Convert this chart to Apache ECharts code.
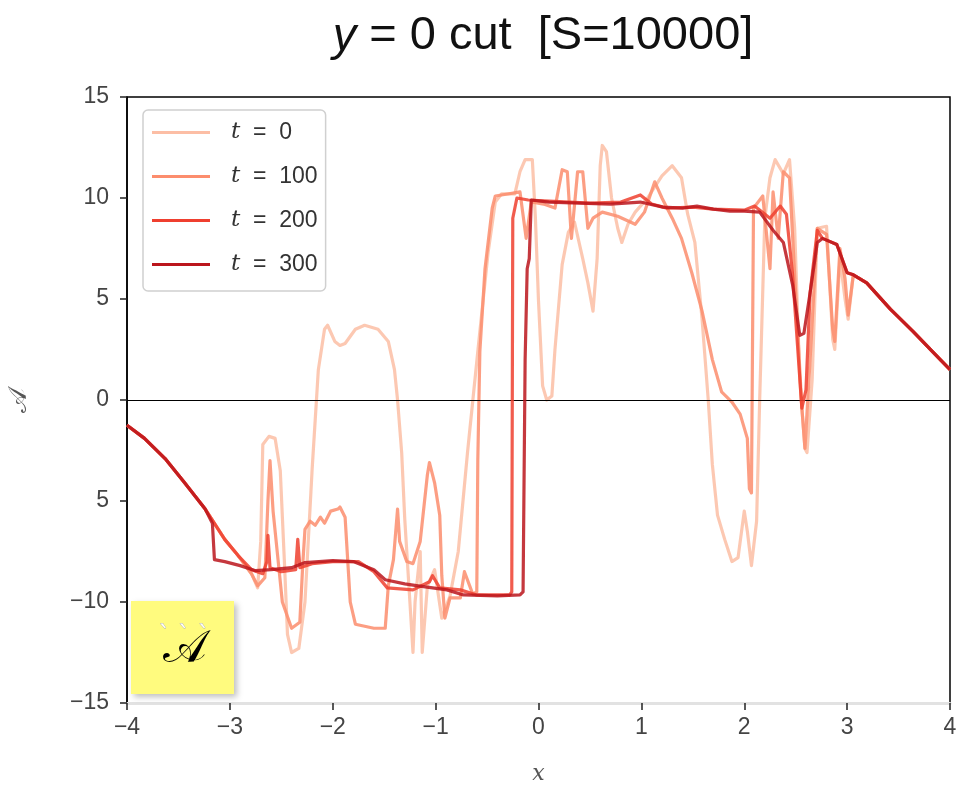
<!DOCTYPE html>
<html>
<head>
<meta charset="utf-8">
<script src="https://cdn.jsdelivr.net/npm/echarts@6/dist/echarts.min.js"></script>
<style>
  html, body { margin: 0; padding: 0; background: #fff; overflow: hidden; }
  #chart { width: 956px; height: 785px; }
</style>
</head>
<body>
<div id="chart"></div>
<script>
// y = 0 cut, four snapshots of A(x)
const seriesNames = ['t = 0', 't = 100', 't = 200', 't = 300'];
const xTicks = [-4, -3, -2, -1, 0, 1, 2, 3, 4];
const yTicks = [-15, -10, -5, 0, 5, 10, 15];

const cutT0 = [[-4.0,-1.25],[-3.83,-1.9],[-3.63,-2.9],[-3.44,-4.1],[-3.24,-5.4],[-3.05,-6.9],[-2.92,-7.7],[-2.79,-8.6],[-2.73,-9.3],[-2.7,-7],[-2.68,-2.2],[-2.62,-1.8],[-2.56,-1.9],[-2.51,-3.5],[-2.47,-8],[-2.44,-11.6],[-2.40,-12.5],[-2.33,-12.3],[-2.27,-10],[-2.2,-3.4],[-2.14,1.5],[-2.08,3.5],[-2.05,3.7],[-1.98,2.9],[-1.93,2.7],[-1.88,2.8],[-1.78,3.5],[-1.69,3.7],[-1.56,3.5],[-1.46,2.9],[-1.4,1.5],[-1.37,0],[-1.33,-2.6],[-1.30,-5.9],[-1.25,-10],[-1.22,-12.5],[-1.2,-10],[-1.15,-7.5],[-1.13,-12.5],[-1.08,-9.2],[-1.01,-8.4],[-0.94,-10.8],[-0.86,-9.7],[-0.78,-7.5],[-0.69,-2.6],[-0.59,2.4],[-0.49,7.3],[-0.42,9.8],[-0.36,10.2],[-0.23,10.2],[-0.18,11.3],[-0.13,11.9],[-0.06,11.9],[-0.03,9.0],[0.0,4.9],[0.04,0.7],[0.08,0.0],[0.13,0.2],[0.16,2.5],[0.23,6.7],[0.29,8.3],[0.35,8.8],[0.43,7.0],[0.48,5.8],[0.53,4.4],[0.57,7],[0.6,11.6],[0.62,12.6],[0.66,12.3],[0.71,10.0],[0.77,8.5],[0.81,7.8],[0.87,8.7],[0.94,9.3],[1.06,10.0],[1.2,11.1],[1.3,11.6],[1.39,11.0],[1.45,9.2],[1.52,7.8],[1.59,4.0],[1.65,0.0],[1.69,-3.2],[1.74,-5.7],[1.81,-6.9],[1.88,-8.0],[1.94,-7.8],[2.0,-5.5],[2.03,-6.5],[2.07,-8.2],[2.12,-6],[2.15,0],[2.2,9.0],[2.25,11.0],[2.3,11.9],[2.38,11.2],[2.44,11.9],[2.49,8.5],[2.54,1.0],[2.59,-2.4],[2.61,-2.6],[2.66,1.0],[2.71,8.5],[2.8,8.6],[2.86,3.0],[2.88,2.5],[2.93,7.0],[2.98,5.0],[3.01,4.0],[3.06,6.2],[3.19,5.8],[3.42,4.5],[3.64,3.4],[3.83,2.4],[4.0,1.5]];

const cutT100 = [[-4.0,-1.25],[-3.83,-1.9],[-3.63,-2.9],[-3.44,-4.1],[-3.24,-5.4],[-3.05,-6.9],[-2.92,-7.7],[-2.79,-8.6],[-2.73,-9.2],[-2.66,-8.8],[-2.63,-5],[-2.61,-3.0],[-2.58,-5.5],[-2.52,-8.5],[-2.49,-10],[-2.4,-11.3],[-2.32,-11.0],[-2.29,-8],[-2.27,-6.4],[-2.22,-6.0],[-2.17,-6.2],[-2.12,-5.8],[-2.08,-6.1],[-2.02,-5.5],[-1.95,-5.4],[-1.93,-5.3],[-1.88,-5.8],[-1.83,-10],[-1.78,-11.1],[-1.6,-11.3],[-1.49,-11.3],[-1.46,-9.2],[-1.41,-7.9],[-1.37,-5.4],[-1.35,-7.0],[-1.28,-8.0],[-1.22,-8.1],[-1.15,-7.0],[-1.08,-3.7],[-1.06,-3.1],[-1.01,-4.1],[-0.96,-5.7],[-0.94,-8.7],[-0.91,-10.8],[-0.86,-9.8],[-0.76,-9.8],[-0.72,-8.5],[-0.64,-9.6],[-0.6,-9.5],[-0.59,-3],[-0.57,2.4],[-0.52,6.5],[-0.45,9.5],[-0.42,10.1],[-0.3,10.2],[-0.18,10.3],[-0.12,8.0],[-0.07,9.8],[0.05,9.7],[0.16,9.5],[0.23,11.4],[0.28,11.3],[0.32,8.0],[0.38,11.3],[0.43,11.3],[0.48,8.5],[0.53,9.0],[0.62,9.3],[0.77,9.1],[0.94,8.7],[1.03,9.3],[1.13,10.8],[1.2,10.0],[1.3,9.0],[1.39,8.0],[1.49,6.3],[1.59,4.4],[1.69,2.0],[1.78,0.4],[1.88,-0.1],[1.96,-0.7],[2.03,-1.9],[2.05,-4.4],[2.07,-4.6],[2.09,9.5],[2.18,10.1],[2.25,6.5],[2.28,10.3],[2.33,8.0],[2.38,11.3],[2.44,11.0],[2.49,6.2],[2.56,-0.4],[2.59,-2.4],[2.64,2.0],[2.71,8.5],[2.8,8.2],[2.86,3.5],[2.88,2.9],[2.93,7.5],[2.98,6.0],[3.01,4.2],[3.06,6.2],[3.19,5.8],[3.42,4.5],[3.64,3.4],[3.83,2.4],[4.0,1.5]];

const cutT200 = [[-4.0,-1.25],[-3.83,-1.9],[-3.63,-2.9],[-3.44,-4.1],[-3.24,-5.4],[-3.05,-6.9],[-2.92,-7.7],[-2.79,-8.4],[-2.68,-8.6],[-2.64,-8.0],[-2.63,-6.7],[-2.61,-8.3],[-2.5,-8.5],[-2.36,-8.4],[-2.34,-6.9],[-2.32,-8.3],[-2.2,-8.1],[-2.0,-8.0],[-1.75,-8.0],[-1.6,-8.5],[-1.47,-9.3],[-1.22,-9.4],[-1.06,-9.0],[-1.03,-8.7],[-0.96,-9.3],[-0.76,-9.4],[-0.6,-9.65],[-0.28,-9.65],[-0.26,-9.5],[-0.25,9.0],[-0.21,10.0],[-0.1,9.9],[0.1,9.85],[0.5,9.75],[0.8,9.8],[0.99,10.15],[1.1,9.7],[1.25,9.5],[1.5,9.55],[1.7,9.45],[2.0,9.4],[2.1,9.6],[2.25,9.0],[2.35,9.6],[2.41,9.2],[2.47,6.2],[2.56,-0.4],[2.6,0.5],[2.64,5.3],[2.71,8.4],[2.76,8.0],[2.9,7.7],[3.0,6.3],[3.06,6.2],[3.19,5.8],[3.42,4.5],[3.64,3.4],[3.83,2.4],[4.0,1.5]];

const cutT300 = [[-4.0,-1.25],[-3.83,-1.9],[-3.63,-2.9],[-3.44,-4.1],[-3.24,-5.4],[-3.17,-6.1],[-3.15,-7.9],[-3.05,-8.0],[-2.9,-8.2],[-2.75,-8.45],[-2.6,-8.4],[-2.4,-8.3],[-2.27,-8.05],[-2.0,-7.95],[-1.8,-8.0],[-1.6,-8.4],[-1.49,-8.9],[-1.3,-9.1],[-1.17,-9.2],[-0.89,-9.4],[-0.73,-9.65],[-0.4,-9.7],[-0.18,-9.65],[-0.15,-9.5],[-0.13,2],[-0.11,6.5],[-0.09,7.0],[-0.07,9.9],[0.1,9.8],[0.4,9.75],[0.7,9.7],[0.99,9.8],[1.21,9.55],[1.4,9.5],[1.54,9.6],[1.7,9.45],[1.86,9.35],[2.0,9.35],[2.15,9.3],[2.28,8.4],[2.38,7.8],[2.47,5.7],[2.54,3.2],[2.58,3.3],[2.64,5.3],[2.71,7.8],[2.76,8.0],[2.9,7.7],[3.0,6.3],[3.06,6.2],[3.19,5.8],[3.42,4.5],[3.64,3.4],[3.83,2.4],[4.0,1.5]];

const colors = ['#fcbea5', '#fc8d6d', '#ef3f2f', '#bb151c'];
const cuts = [cutT0, cutT100, cutT200, cutT300];

const minus = (v) => (v < 0 ? '\u2212' + Math.abs(v) : String(v));

const chart = echarts.init(document.getElementById('chart'));

let series = cuts.map((d, i) => ({
  name: seriesNames[i],
  type: 'line',
  data: d,
  showSymbol: false,
  symbol: 'none',
  z: 3 + i,
  lineStyle: { color: colors[i], width: 3.2, opacity: 0.85, join: 'round' },
  itemStyle: { color: colors[i] }
}));
// zero line
series[0].markLine = {
  silent: true,
  symbol: 'none',
  label: { show: false },
  lineStyle: { color: '#000', width: 1.2, type: 'solid' },
  data: [{ yAxis: 0 }]
};

const option = {
  animation: false,
  backgroundColor: '#fff',
  title: {
    text: '{i|y} = 0 cut  [S=10000]',
    left: 538,
    top: 8,
    textAlign: 'center',
    textStyle: {
      fontFamily: 'Liberation Sans',
      fontSize: 47,
      fontWeight: 'normal',
      color: '#111',
      rich: {
        i: { fontFamily: 'Liberation Sans', fontSize: 47, fontStyle: 'italic', color: '#111' }
      }
    }
  },
  legend: {
    orient: 'vertical',
    left: 143,
    top: 110,
    padding: [11, 8, 15, 9],
    itemGap: 21,
    itemWidth: 58,
    itemHeight: 3,
    icon: 'rect',
    backgroundColor: '#fff',
    borderColor: '#d0d0d0',
    borderWidth: 1.5,
    borderRadius: 5,
    data: seriesNames,
    formatter: (n) => '{i|t}  =  ' + n.slice(4),
    textStyle: {
      fontFamily: 'Liberation Sans',
      fontSize: 23,
      color: '#333',
      padding: [0, 0, 0, 16],
      rich: {
        i: { fontFamily: 'DejaVu Serif', fontStyle: 'italic', fontSize: 23, color: '#333' }
      }
    }
  },
  grid: {
    left: 127,
    right: 6,
    top: 97,
    bottom: 82,
    outerBoundsMode: 'none',
    containLabel: false,
    show: true,
    borderColor: '#000',
    borderWidth: 1.5,
    backgroundColor: 'transparent'
  },
  xAxis: {
    type: 'value',
    min: -4,
    max: 4,
    interval: 1,
    name: 'x',
    nameLocation: 'middle',
    nameGap: 60,
    nameTextStyle: { fontFamily: 'DejaVu Serif', fontStyle: 'italic', fontSize: 22, color: '#555' },
    splitLine: { show: false },
    axisLine: { show: true, onZero: false, lineStyle: { color: '#e2e2e2', width: 3 } },
    axisTick: { show: true, length: 7, lineStyle: { color: '#222', width: 1.5 } },
    axisLabel: {
      margin: 13,
      fontFamily: 'Liberation Sans',
      fontSize: 23,
      color: '#444',
      formatter: (v) => (xTicks.indexOf(v) >= 0 ? minus(v) : '')
    }
  },
  yAxis: {
    type: 'value',
    min: -15,
    max: 15,
    interval: 5,
    name: '\uD835\uDC9C',
    nameLocation: 'middle',
    nameRotate: 90,
    nameGap: 95,
    nameTextStyle: { fontFamily: 'DejaVu Serif', fontSize: 26, color: '#555' },
    splitLine: { show: false },
    axisLine: { show: true, onZero: false, lineStyle: { color: '#000', width: 1.5 } },
    axisTick: { show: true, length: 7, lineStyle: { color: '#222', width: 1.5 } },
    axisLabel: {
      margin: 18,
      fontFamily: 'Liberation Sans',
      fontSize: 23,
      color: '#444',
      // the reference drops the sign on the -5 label
      formatter: (v) => (yTicks.indexOf(v) < 0 ? '' : v === -5 ? '5' : minus(v))
    }
  },
  graphic: [
    {
      type: 'rect',
      left: 131,
      top: 601,
      shape: { width: 103, height: 93 },
      z: 100,
      style: {
        fill: '#fffb7e',
        shadowBlur: 6,
        shadowOffsetX: 3,
        shadowOffsetY: 3,
        shadowColor: 'rgba(0,0,0,0.25)'
      }
    },
    {
      type: 'text',
      left: 158,
      top: 624,
      z: 101,
      style: { text: '` ` `', font: '24px "DejaVu Serif"', fill: '#ffffff', stroke: '#b0b0a8', lineWidth: 0.8 }
    },
    {
      type: 'text',
      left: 163,
      top: 627,
      z: 101,
      style: { text: '\uD835\uDC9C', font: '46px "DejaVu Serif"', fill: '#000' }
    }
  ],
  series: series
};

chart.setOption(option);
</script>
</body>
</html>
